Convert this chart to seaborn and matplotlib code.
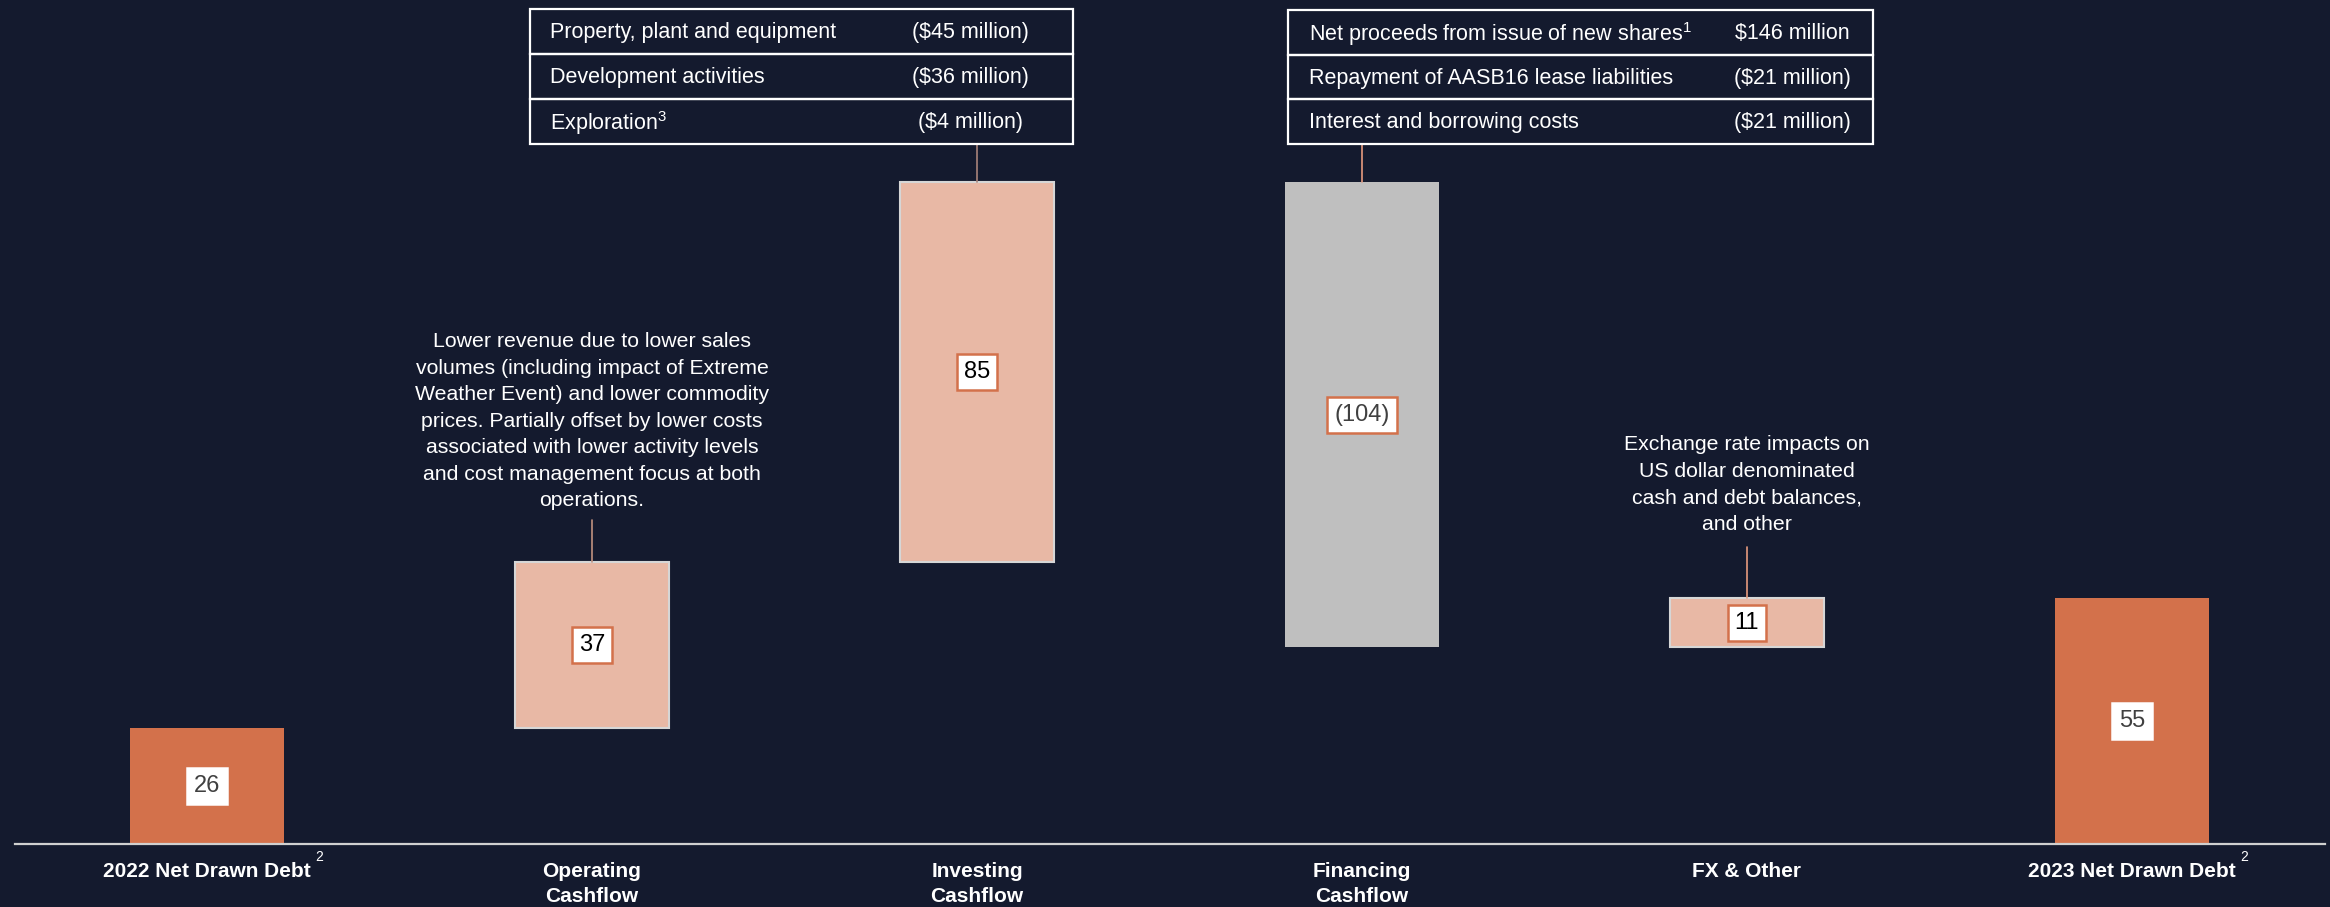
import numpy as np
import pandas as pd
import seaborn as sns
import matplotlib.pyplot as plt
from matplotlib.patches import Rectangle

# waterfall data (A$ million)
categories = ["2022 Net Drawn Debt", "Operating\nCashflow", "Investing\nCashflow",
              "Financing\nCashflow", "FX & Other", "2023 Net Drawn Debt"]
values = [26, 37, 85, -104, 11, 55]
value_labels = ["26", "37", "85", "(104)", "11", "55"]
is_total = [True, False, False, False, False, True]
superscripts = ["2", "", "", "", "", "2"]

investing_items = ["Property, plant and equipment", "Development activities", "Exploration$^{3}$"]
investing_amounts = ["($45 million)", "($36 million)", "($4 million)"]
financing_items = ["Net proceeds from issue of new shares$^{1}$",
                   "Repayment of AASB16 lease liabilities", "Interest and borrowing costs"]
financing_amounts = ["$146 million", "($21 million)", "($21 million)"]

operating_note = ("Lower revenue due to lower sales\nvolumes (including impact of Extreme\n"
                  "Weather Event) and lower commodity\nprices. Partially offset by lower costs\n"
                  "associated with lower activity levels\nand cost management focus at both\noperations.")
fx_note = "Exchange rate impacts on\nUS dollar denominated\ncash and debt balances,\nand other"

BG = "#141a2e"
DARK = "#d3714b"
LIGHT = "#e8b8a5"
GREY = "#bfbfbf"

sns.set_theme(style="white")
plt.rcParams["font.family"] = ["Liberation Sans", "DejaVu Sans"]
plt.rcParams["mathtext.fontset"] = "custom"
plt.rcParams["mathtext.rm"] = "Liberation Sans"
plt.rcParams["mathtext.default"] = "regular"

# running totals -> bar bottoms and heights
bases, heights = [], []
level = 0
for v, tot in zip(values, is_total):
    if tot:
        bases.append(0)
        heights.append(v)
        level = v
    else:
        new = level + v
        bases.append(min(level, new))
        heights.append(abs(v))
        level = new
df = pd.DataFrame({"category": categories, "height": heights, "base": bases})
tops = df["base"] + df["height"]

fig = plt.figure(figsize=(23.3, 9.07), dpi=100, facecolor=BG)
ax = fig.add_axes([14.5 / 2330, 63 / 907, 2310 / 2330, 844 / 907])
ax.set_facecolor(BG)

sns.barplot(data=df, x="category", y="height", bottom=df["base"].to_numpy(),
            width=0.4, errorbar=None, color=LIGHT, saturation=1, ax=ax)

for i, p in enumerate(ax.patches):
    if is_total[i]:
        p.set_facecolor(DARK)
        p.set_edgecolor("none")
    elif values[i] < 0:
        p.set_facecolor(GREY)
        p.set_edgecolor("none")
    else:
        p.set_facecolor(LIGHT)
        p.set_edgecolor("#d6d6d6")
        p.set_linewidth(1.5)

# value boxes
for i in range(len(categories)):
    mid = df["base"][i] + df["height"][i] / 2
    edge = "white" if is_total[i] else DARK
    col = "#000000" if (not is_total[i] and values[i] > 0) else "#404040"
    ax.text(i, mid, value_labels[i], ha="center", va="center", fontsize=17, color=col,
            bbox=dict(boxstyle="square,pad=0.3", fc="white", ec=edge, lw=1.8))

ax.set_xlim(-0.5, 5.5)
ax.set_ylim(0, 844 / 4.47)
ax.set_xlabel("")
ax.set_ylabel("")
ax.set_yticks([])
for s in ["left", "right", "top"]:
    ax.spines[s].set_visible(False)
ax.spines["bottom"].set_color("#d0d0d0")
ax.spines["bottom"].set_linewidth(1.6)
ax.tick_params(axis="x", length=0, pad=13)
ax.set_xticks(range(len(categories)))
ax.set_xticklabels(categories, fontsize=15, fontweight="bold", color="white",
                   linespacing=1.38)


def draw_table(x0, x1, y_top, row_h, items, amounts, text_x, amt_x):
    for r, (item, amt) in enumerate(zip(items, amounts)):
        yb = y_top - (r + 1) * row_h
        ax.add_patch(Rectangle((x0, yb), x1 - x0, row_h, fill=False, ec="white",
                               lw=1.6, clip_on=False, zorder=3))
        yc = yb + row_h / 2 - 0.3
        ax.text(text_x, yc, item, ha="left", va="center", fontsize=15.5, color="white")
        ax.text(amt_x, yc, amt, ha="center", va="center", fontsize=15.5, color="white")


draw_table(0.838, 2.249, 186.8, 10.07, investing_items, investing_amounts, 0.891, 1.982)
draw_table(2.808, 4.327, 186.6, 10.0, financing_items, financing_amounts, 2.862, 4.117)

# connectors
ax.plot([2, 2], [tops[2], 156.6], color="#a8837a", lw=1.2)
ax.plot([3, 3], [tops[3], 156.6], color="#e59a7e", lw=1.2)
ax.plot([1, 1], [tops[1], 72.5], color="#c0917f", lw=1.2)
ax.plot([4, 4], [tops[4], 66.4], color="#e59a7e", lw=1.2)

ax.text(1, 74.7, operating_note, ha="center", va="bottom", fontsize=15.3, color="white",
        linespacing=1.5)
ax.text(4, 69.4, fx_note, ha="center", va="bottom", fontsize=15.3, color="white",
        linespacing=1.5)

# superscripts on the total labels
fig.canvas.draw()
renderer = fig.canvas.get_renderer()
for lab, sup in zip(ax.get_xticklabels(), superscripts):
    if not sup:
        continue
    bb = lab.get_window_extent(renderer)
    fig.text((bb.x1 + 4) / fig.bbox.width, (bb.y1 + 1) / fig.bbox.height, sup,
             fontsize=10, color="white", ha="left", va="baseline")

fig.savefig("out.png", dpi=100, facecolor=BG)
